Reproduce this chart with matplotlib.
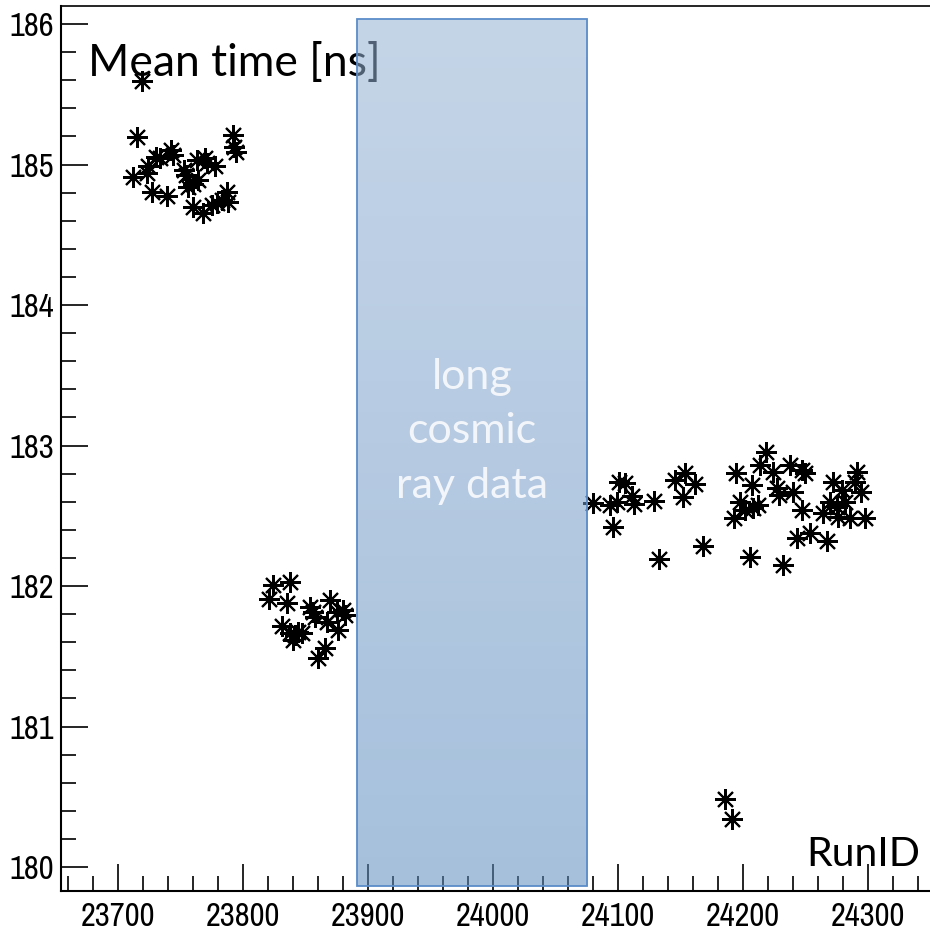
import numpy as np
import matplotlib
matplotlib.use("Agg")
from matplotlib import pyplot as plt
from matplotlib.patches import Rectangle
from matplotlib.ticker import MultipleLocator

# runs before the cosmic ray period
early_runs = [23719.4, 23715.4, 23712.5, 23723.2, 23724.5, 23727.2, 23730.6, 23733.8,
              23739.4, 23742.6, 23744.2, 23753.0, 23756.2, 23760.2, 23764.2, 23763.4,
              23769.8, 23771.4, 23777.8, 23760.2, 23768.2, 23775.2, 23779.2, 23783.2,
              23787.2, 23788.5, 23792.2, 23793.4, 23795.0, 23754.6]
early_times = [185.594, 185.196, 184.911, 184.940, 184.989, 184.806, 185.053, 185.044,
               184.776, 185.103, 185.068, 184.961, 184.842, 184.861, 184.890, 185.032,
               185.044, 185.009, 184.989, 184.700, 184.653, 184.712, 184.724, 184.747,
               184.806, 184.735, 185.210, 185.127, 185.089, 184.925]

mid_runs = [23824.5, 23837.8, 23821.3, 23835.2, 23831.2, 23837.8, 23841.8, 23844.5,
            23847.2, 23840.5, 23853.8, 23856.5, 23857.8, 23867.2, 23869.8, 23875.2,
            23880.5, 23876.5, 23865.8, 23860.5, 23881.8]
mid_times = [182.007, 182.031, 181.905, 181.877, 181.715, 181.663, 181.651, 181.675,
             181.663, 181.616, 181.853, 181.817, 181.781, 181.746, 181.900, 181.817,
             181.829, 181.687, 181.557, 181.486, 181.795]

# runs after the cosmic ray period
late_runs = [24080.5, 24093.8, 24099.2, 24096.5, 24101.3, 24105.8, 24111.2, 24113.0,
             24129.3, 24133.3, 24145.8, 24153.8, 24152.5, 24161.8, 24168.5, 24194.6,
             24193.3, 24197.8, 24201.8, 24205.8, 24207.2, 24208.5, 24212.5, 24213.8,
             24218.6, 24224.0, 24232.5, 24227.2, 24229.3, 24237.8, 24240.5, 24247.2,
             24249.8, 24247.2, 24243.7, 24253.8, 24267.7, 24264.5, 24272.5, 24279.2,
             24269.8, 24275.2, 24281.8, 24276.5, 24285.8, 24291.2, 24289.8, 24294.4,
             24297.8, 24185.8, 24191.2]
late_times = [182.589, 182.577, 182.600, 182.422, 182.742, 182.731, 182.641, 182.584,
              182.607, 182.190, 182.754, 182.802, 182.636, 182.724, 182.287, 182.806,
              182.482, 182.600, 182.541, 182.209, 182.719, 182.553, 182.577, 182.861,
              182.956, 182.813, 182.149, 182.695, 182.648, 182.861, 182.671, 182.826,
              182.802, 182.541, 182.340, 182.375, 182.322, 182.517, 182.742, 182.683,
              182.600, 182.564, 182.600, 182.493, 182.482, 182.814, 182.742, 182.671,
              182.482, 180.482, 180.339]

# long cosmic ray data taking period
cosmic_start, cosmic_end = 23891.4, 24075.5

x_min, x_max = 23654.4, 24349.8
y_min, y_max = 179.832, 186.128

fig = plt.figure(figsize=(9.30, 9.33), dpi=100)
ax = fig.add_axes([60.7 / 930, 42.3 / 933, 1 - 60.7 / 930, 884.7 / 933])

star = (8, 2, 0)
for runs, times in [(early_runs, early_times), (mid_runs, mid_times), (late_runs, late_times)]:
    ax.plot(runs, times, linestyle="none", marker=star, markersize=15,
            markeredgewidth=1.5, color="black", zorder=3)

ax.set_xlim(x_min, x_max)
ax.set_ylim(y_min, y_max)

ax.xaxis.set_major_locator(MultipleLocator(100))
ax.xaxis.set_minor_locator(MultipleLocator(20))
ax.yaxis.set_major_locator(MultipleLocator(1))
ax.yaxis.set_minor_locator(MultipleLocator(0.2))
ax.tick_params(which="both", direction="in", width=1.2, color="black")
ax.tick_params(which="major", length=19.5, labelsize=23.5,
               labelfontfamily=["Archivo Narrow", "Liberation Sans"])
ax.tick_params(which="minor", length=10.5)
ax.tick_params(axis="x", pad=8)
ax.tick_params(axis="y", pad=5)

ax.spines["right"].set_visible(False)
for side in ["left", "bottom"]:
    ax.spines[side].set_linewidth(1.5)
ax.spines["top"].set_linewidth(1.2)

# shaded band for the cosmic run period, light at top, darker at bottom
box_top, box_bottom = 186.036, 179.867
top_rgb = np.array([149.5, 178.6, 213.2]) / 255
bot_rgb = np.array([93.2, 140.5, 191.4]) / 255
t = np.linspace(0, 1, 256)[:, None]
grad = (top_rgb * (1 - t) + bot_rgb * t)[:, None, :]
ax.imshow(grad, extent=[cosmic_start, cosmic_end, box_bottom, box_top],
          aspect="auto", alpha=0.55, zorder=5, interpolation="bilinear")
ax.add_patch(Rectangle((cosmic_start, box_bottom), cosmic_end - cosmic_start,
                       box_top - box_bottom, fill=False, edgecolor="#5b8cc8",
                       linewidth=1.3, zorder=6))
ax.set_xlim(x_min, x_max)
ax.set_ylim(y_min, y_max)

ax.text((cosmic_start + cosmic_end) / 2, 183.10, "long\ncosmic\nray data",
        ha="center", va="center", fontsize=31, family="Lato", color="#f2f5fa",
        linespacing=1.52, zorder=7)

# axis titles sit inside the frame; the band is drawn over the first one
ax.text((88 - 60.7) / 869.3, (890.7 - 76) / 884.7, "Mean time [ns]",
        transform=ax.transAxes, fontsize=32, family="Lato", color="black",
        va="baseline", zorder=4)
ax.text((806 - 60.7) / 869.3, (890.7 - 866) / 884.7, "RunID",
        transform=ax.transAxes, fontsize=29.5, family="Lato", color="black",
        va="baseline", zorder=4)

fig.savefig("out.png", dpi=100)
